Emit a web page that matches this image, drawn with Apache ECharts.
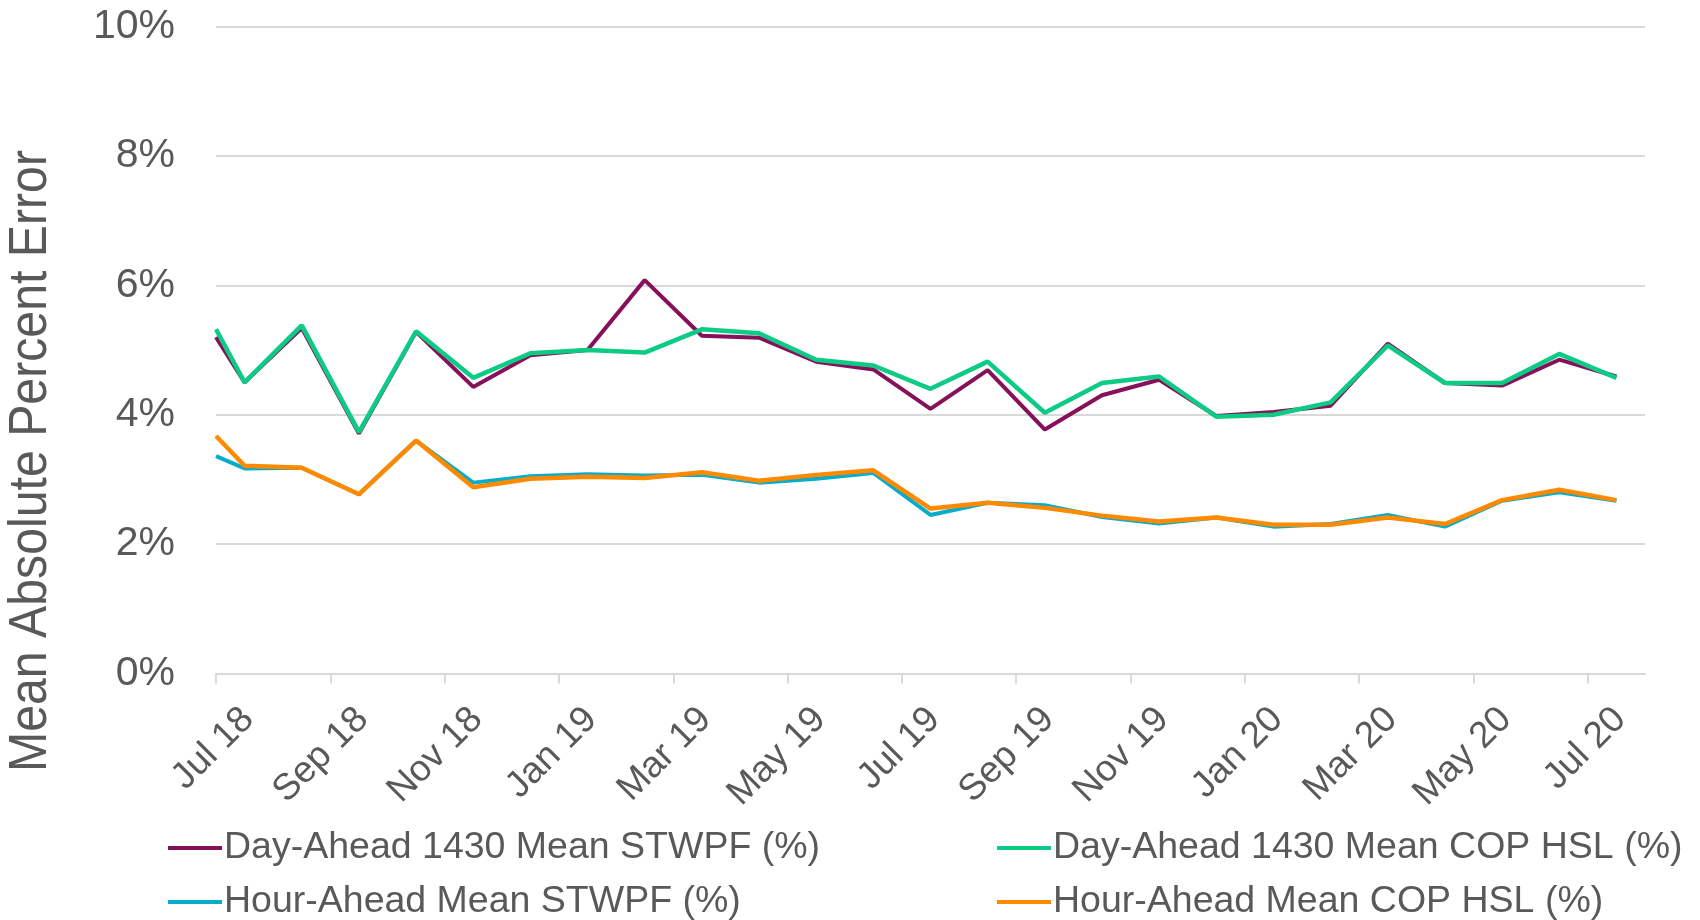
<!DOCTYPE html>
<html>
<head>
<meta charset="utf-8">
<script src="https://cdn.jsdelivr.net/npm/echarts@6/dist/echarts.min.js"></script>
<style>
  html, body { margin: 0; padding: 0; background: #fff; }
  #main { width: 1700px; height: 920px; }
</style>
</head>
<body>
<div id="main"></div>
<script>
// month ticks every 2 months, axis runs Jul 2018 .. Aug 2020
var tickLabels = ['Jul 18', 'Sep 18', 'Nov 18', 'Jan 19', 'Mar 19', 'May 19', 'Jul 19',
  'Sep 19', 'Nov 19', 'Jan 20', 'Mar 20', 'May 20', 'Jul 20'];

var dates = ['2018-07-01', '2018-07-16', '2018-08-16', '2018-09-16', '2018-10-16', '2018-11-16',
  '2018-12-16', '2019-01-16', '2019-02-16', '2019-03-16', '2019-04-16', '2019-05-16',
  '2019-06-16', '2019-07-16', '2019-08-16', '2019-09-16', '2019-10-16', '2019-11-16',
  '2019-12-16', '2020-01-16', '2020-02-16', '2020-03-16', '2020-04-16', '2020-05-16',
  '2020-06-16', '2020-07-16'];

var dayAheadStwpf = [5.20, 4.50, 5.34, 3.71, 5.28, 4.43, 4.92, 5.00, 6.08, 5.22, 5.19, 4.82, 4.70,
  4.09, 4.69, 3.77, 4.30, 4.54, 3.98, 4.04, 4.14, 5.10, 4.49, 4.45, 4.85, 4.59];
var dayAheadCop = [5.32, 4.50, 5.38, 3.73, 5.29, 4.57, 4.95, 5.00, 4.96, 5.32, 5.26, 4.85, 4.76,
  4.40, 4.82, 4.03, 4.49, 4.59, 3.97, 4.00, 4.19, 5.07, 4.49, 4.49, 4.94, 4.57];
var hourAheadStwpf = [3.36, 3.17, 3.18, 2.77, 3.60, 2.95, 3.05, 3.08, 3.06, 3.07, 2.95, 3.01, 3.10,
  2.45, 2.64, 2.60, 2.42, 2.32, 2.41, 2.27, 2.31, 2.45, 2.27, 2.67, 2.80, 2.67];
var hourAheadCop = [3.67, 3.21, 3.18, 2.77, 3.60, 2.88, 3.01, 3.04, 3.02, 3.11, 2.98, 3.07, 3.14,
  2.55, 2.64, 2.56, 2.44, 2.35, 2.41, 2.30, 2.30, 2.41, 2.31, 2.68, 2.84, 2.68];

var names = ['Day-Ahead 1430 Mean STWPF (%)', 'Day-Ahead 1430 Mean COP HSL (%)',
  'Hour-Ahead Mean STWPF (%)', 'Hour-Ahead Mean COP HSL (%)'];
var colors = ['#86105a', '#0ccb84', '#05adcb', '#ff8a00'];

// months since Jul 1 2018
function monthPos(d) {
  var p = d.split('-').map(Number);
  return (p[0] - 2018) * 12 + (p[1] - 7) + (p[2] - 1) / 30;
}

function pairs(vals) {
  return vals.map(function (v, i) { return [monthPos(dates[i]), v]; });
}

var tickValues = tickLabels.map(function (_, i) { return i * 2; });
var textColor = '#595959';
var font = 'Arial, "Liberation Sans", sans-serif';

// one legend per entry: 2 columns x 2 rows like the original
function legendItem(name, left, top) {
  return {
    data: [name],
    left: left,
    top: top,
    icon: 'rect',
    itemWidth: 54,
    itemHeight: 4,
    textStyle: { fontSize: 37.5, color: textColor, lineHeight: 40, fontFamily: font, padding: [0, 0, 0, -3] }
  };
}

var chart = echarts.init(document.getElementById('main'));
chart.setOption({
  animation: false,
  color: colors,
  textStyle: { fontFamily: font },
  grid: { left: 216, right: 55, top: 26.5, bottom: 246.5, outerBoundsMode: 'none' },
  xAxis: {
    type: 'value',
    min: 0,
    max: 25,
    interval: 2,
    splitLine: { show: false },
    axisLine: { lineStyle: { color: '#d9d9d9', width: 2 } },
    axisTick: { show: true, length: 10, customValues: tickValues, lineStyle: { color: '#d9d9d9', width: 2 } },
    axisLabel: {
      customValues: tickValues,
      rotate: 45,
      margin: 8,
      verticalAlign: 'top',
      padding: [27, 0, 0, 0],
      fontSize: 37,
      color: textColor,
      fontFamily: font,
      formatter: function (v) { return tickLabels[v / 2] || ''; }
    }
  },
  yAxis: {
    type: 'value',
    min: 0,
    max: 10,
    interval: 2,
    axisLine: { show: false },
    axisTick: { show: false },
    splitLine: { lineStyle: { color: '#d9d9d9', width: 2 } },
    axisLabel: { fontSize: 41, color: textColor, margin: 41, fontFamily: font, formatter: '{value}%' }
  },
  legend: [
    legendItem(names[0], 163, 823),
    legendItem(names[1], 992, 823),
    legendItem(names[2], 163, 877),
    legendItem(names[3], 992, 877)
  ],
  graphic: [{
    type: 'text',
    x: 31,
    y: 461,
    rotation: Math.PI / 2,
    scaleX: 0.91,
    style: {
      text: 'Mean Absolute Percent Error',
      fontSize: 53,
      fontFamily: font,
      fill: textColor,
      align: 'center',
      verticalAlign: 'middle'
    }
  }],
  series: [
    { name: names[0], type: 'line', data: pairs(dayAheadStwpf), showSymbol: false, lineStyle: { width: 4 } },
    { name: names[1], type: 'line', data: pairs(dayAheadCop), showSymbol: false, lineStyle: { width: 4.5 } },
    { name: names[2], type: 'line', data: pairs(hourAheadStwpf), showSymbol: false, lineStyle: { width: 4 } },
    { name: names[3], type: 'line', data: pairs(hourAheadCop), showSymbol: false, lineStyle: { width: 4.5 } }
  ]
});
</script>
</body>
</html>
